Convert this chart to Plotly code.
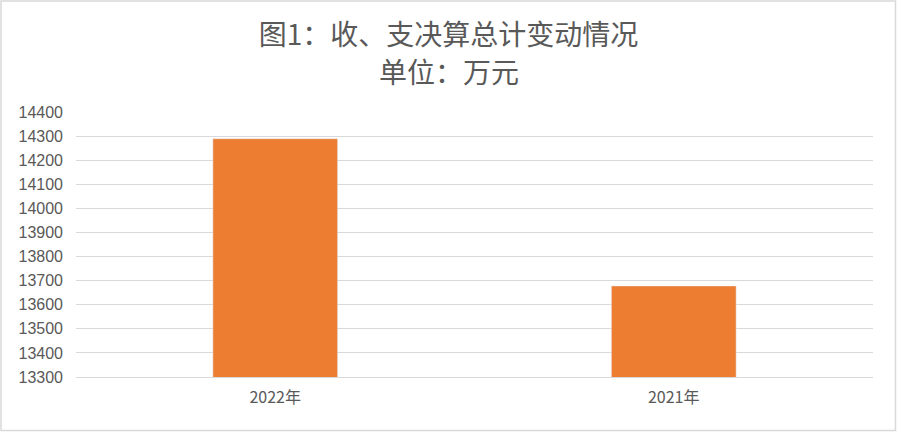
import plotly.graph_objects as go

# data
years = ["2022年", "2021年"]
totals = [14289, 13678]
y_ticks = list(range(13300, 14401, 100))
y_labels = [str(v) for v in y_ticks]
title_main = "图1：收、支决算总计变动情况"
title_unit = "单位：万元"

W, H = 897, 432
L, R, T, B = 76, 24, 112, 55

fig = go.Figure()
fig.add_trace(go.Bar(x=years, y=totals, marker_color="#ED7D31", width=0.313))

# outer border of the chart area (paper coords relative to plot domain)
pw, ph = W - L - R, H - T - B
fig.add_shape(type="rect", xref="paper", yref="paper",
              x0=-(L - 1) / pw, x1=1 + (R - 1.5) / pw,
              y0=-(B - 1.5) / ph, y1=1 + (T - 1) / ph,
              line=dict(color="#D9D9D9", width=1.5), fillcolor="rgba(0,0,0,0)")

# second title line as its own text so the lines keep apart
fig.add_annotation(text=title_unit, xref="paper", yref="paper",
                   x=0.5 - (L - R) / 2 / pw, y=1 + (T - 71) / ph,
                   xanchor="center", yanchor="middle", showarrow=False,
                   font=dict(size=28, color="#595959"))

fig.update_layout(
    width=W, height=H,
    margin=dict(l=L, r=R, t=T, b=B),
    paper_bgcolor="white", plot_bgcolor="white",
    font=dict(family="Noto Sans CJK SC, Noto Sans, sans-serif", color="#595959"),
    title=dict(text=title_main, x=0.5, xanchor="center",
               y=1 - 35 / H, yanchor="middle",
               font=dict(size=28, color="#595959")),
    showlegend=False,
)
fig.update_yaxes(range=[13300, 14400], tickvals=y_ticks, ticktext=y_labels,
                 showgrid=True, gridcolor="#D9D9D9", gridwidth=1.3, zeroline=False,
                 tickfont=dict(size=16, color="#595959", family="Liberation Sans, sans-serif"),
                 ticks="", ticklabelstandoff=12)
fig.update_xaxes(showline=True, linecolor="#D9D9D9", linewidth=1.3,
                 tickfont=dict(size=16, color="#595959"), ticks="",
                 ticklabelstandoff=6)

fig.write_html("out.html", config={"displayModeBar": False},
               post_script="document.body.style.margin='0';")
